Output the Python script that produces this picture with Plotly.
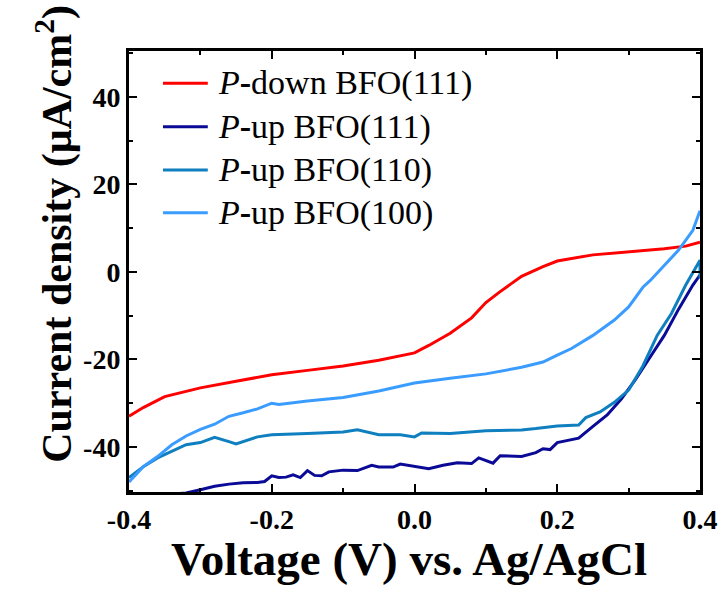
import plotly.graph_objects as go

# ---- data ----
v_down111 = [-0.4, -0.38, -0.35, -0.3, -0.25, -0.2, -0.15, -0.1, -0.05, 0.0, 0.02, 0.05,
             0.08, 0.1, 0.12, 0.15, 0.18, 0.2, 0.25, 0.3, 0.35, 0.38, 0.4]
j_down111 = [-33, -31, -28.5, -26.5, -25, -23.5, -22.5, -21.5, -20.2, -18.5, -16.8, -14,
             -10.5, -7, -4.5, -1, 1.2, 2.5, 3.9, 4.6, 5.3, 5.9, 6.8]

v_up111 = [-0.4, -0.36, -0.34, -0.32, -0.3, -0.28, -0.26, -0.24, -0.22, -0.21, -0.2, -0.19,
           -0.18, -0.17, -0.16, -0.15, -0.14, -0.13, -0.12, -0.1, -0.08, -0.06, -0.05, -0.03,
           -0.02, 0.0, 0.02, 0.04, 0.06, 0.08, 0.09, 0.11, 0.12, 0.15, 0.17, 0.18, 0.19, 0.2,
           0.23, 0.25, 0.27, 0.29, 0.31, 0.33, 0.35, 0.37, 0.39, 0.4]
j_up111 = [-56, -52, -50.8, -50.5, -49.8, -49, -48.5, -48.2, -48.1, -47.9, -46.6, -47,
           -46.9, -46.4, -47, -45.4, -46.5, -46.6, -45.7, -45.3, -45.4, -44.2, -44.6, -44.6,
           -43.9, -44.5, -45, -44.2, -43.6, -43.8, -42.5, -43.7, -42, -42.2, -41.3, -40.4, -40.6, -39,
           -38, -35.3, -32.7, -29, -24.5, -19.5, -14.5, -8.5, -3, -0.7]

v_up110 = [-0.4, -0.38, -0.36, -0.34, -0.32, -0.3, -0.28, -0.26, -0.25, -0.22, -0.2, -0.15,
           -0.1, -0.08, -0.05, -0.02, 0.0, 0.01, 0.05, 0.1, 0.15, 0.17, 0.2, 0.23, 0.24, 0.26,
           0.28, 0.3, 0.32, 0.34, 0.36, 0.38, 0.4, 0.4]
j_up110 = [-47, -44.5, -42.5, -41, -39.5, -39, -37.8, -38.8, -39.3, -37.7, -37.2, -36.9,
           -36.6, -36.1, -37.2, -37.2, -37.7, -36.8, -36.9, -36.3, -36.1, -35.8, -35.2, -35, -33.3, -32,
           -29.8, -27, -21.5, -14.5, -9.5, -3, 2.7, -1.5]

v_up100 = [-0.4, -0.38, -0.36, -0.34, -0.32, -0.3, -0.28, -0.26, -0.24, -0.22, -0.2, -0.19,
           -0.15, -0.1, -0.05, 0.0, 0.05, 0.1, 0.15, 0.18, 0.2, 0.22, 0.25, 0.28, 0.3, 0.32,
           0.33, 0.35, 0.37, 0.39, 0.4]
j_up100 = [-48, -44.5, -42.2, -39.5, -37.5, -36, -34.8, -33, -32.2, -31.3, -30, -30.3,
           -29.5, -28.7, -27.2, -25.4, -24.3, -23.3, -21.8, -20.6, -19, -17.5, -14.5, -11, -8, -3.5,
           -2, 1.5, 5, 9.5, 14]

series_names = ["<i>P</i><b>-</b>down BFO(111)", "<i>P</i><b>-</b>up BFO(111)",
                "<i>P</i><b>-</b>up BFO(110)", "<i>P</i><b>-</b>up BFO(100)"]
series_colors = ["#ff0000", "#0a0a96", "#0f7fc0", "#3a9cff"]

x_tickvals = [-0.4, -0.2, 0.0, 0.2, 0.4]
x_ticktext = ["-0.4", "-0.2", "0.0", "0.2", "0.4"]
y_tickvals = [-40, -20, 0, 20, 40]
y_ticktext = ["-40", "-20", "0", "20", "40"]

FONT = "Liberation Serif"

fig = go.Figure()
all_v = [v_down111, v_up111, v_up110, v_up100]
all_j = [j_down111, j_up111, j_up110, j_up100]
for v, j, name, col in zip(all_v, all_j, series_names, series_colors):
    fig.add_trace(go.Scatter(x=v, y=j, mode="lines", name=name,
                             line=dict(color=col, width=3), showlegend=False))

# custom legend (lines + text)
leg_y = [0.927, 0.828, 0.730, 0.633]
for yy, name, col in zip(leg_y, series_names, series_colors):
    fig.add_shape(type="line", xref="paper", yref="paper", x0=0.0595, x1=0.138,
                  y0=yy, y1=yy, line=dict(color=col, width=3))
    fig.add_annotation(xref="paper", yref="paper", x=0.152, y=yy, text=name,
                       showarrow=False, xanchor="left", yanchor="middle",
                       font=dict(family=FONT, size=34, color="black"))

axis_common = dict(showline=True, linecolor="black", linewidth=3, mirror="ticks",
                   ticks="inside", tickcolor="black", tickwidth=2, ticklen=8,
                   showgrid=False, zeroline=False, automargin=False,
                   tickfont=dict(family=FONT, size=28, color="black", weight="bold"))

fig.update_xaxes(range=[-0.4, 0.4], tickvals=x_tickvals, ticktext=x_ticktext,
                 minor=dict(dtick=0.1, ticks="inside", ticklen=4, tickwidth=2, tickcolor="black"),
                 ticklabelstandoff=0, **axis_common)
fig.update_yaxes(range=[-50.3, 50.5], tickvals=y_tickvals, ticktext=y_ticktext,
                 minor=dict(dtick=10, ticks="inside", ticklen=4, tickwidth=2, tickcolor="black"),
                 ticklabelstandoff=0, **axis_common)

fig.add_annotation(xref="paper", yref="paper", x=0.49, y=-0.152, text="Voltage (V) vs. Ag/AgCl",
                   showarrow=False, xanchor="center", yanchor="middle",
                   font=dict(family=FONT, size=47, color="black", weight="bold"))
fig.add_annotation(xref="paper", yref="paper", x=-0.13, y=0.585,
                   text="Current density (μA/cm<sup>2</sup>)", textangle=-90,
                   showarrow=False, xanchor="center", yanchor="middle",
                   font=dict(family=FONT, size=42, color="black", weight="bold"))

fig.update_layout(width=718, height=589, margin=dict(l=129, r=18, t=51, b=97),
                  plot_bgcolor="white", paper_bgcolor="white", showlegend=False)

fig.write_html("out.html", config={"responsive": False})
